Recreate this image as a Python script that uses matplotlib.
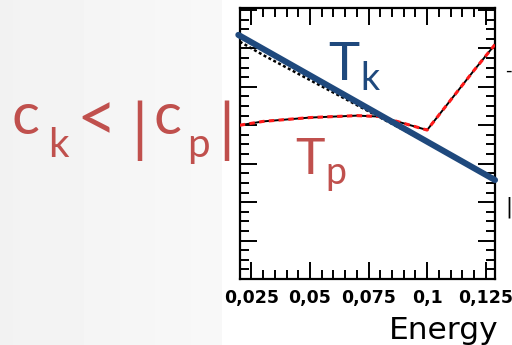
import numpy as np
import matplotlib
matplotlib.use('Agg')
import matplotlib.pyplot as plt
from matplotlib.ticker import MultipleLocator, FixedLocator, FixedFormatter

# energy grid and the two curves (arbitrary units)
energy = [0.02, 0.03, 0.04, 0.05, 0.06, 0.07, 0.08, 0.09, 0.10, 0.11, 0.12, 0.13]
t_kin = [24.7, 23.3, 22.0, 20.7, 19.4, 18.1, 16.8, 15.5, 14.2, 12.9, 11.6, 10.4]
t_pot = [16.0, 16.4, 16.6, 16.8, 16.9, 17.0, 16.9, 16.2, 15.5, 18.6, 21.7, 24.7]
# straight guide line (blue) end points
fit_x = [0.0194, 0.1290]
fit_y = [25.4, 10.3]

xtick_vals = [0.025, 0.05, 0.075, 0.1, 0.125]
xtick_labels = ['0,025', '0,05', '0,075', '0,1', '0,125']

red = '#c0504d'
blue = '#1f497d'

fig = plt.figure(figsize=(5.12, 3.45), dpi=100)
W, H = 512.0, 345.0

# light grey slide background on the left
bg = fig.add_axes([0, 0, 222 / W, 1], zorder=-10)
grad = np.linspace(0.948, 0.972, 50).reshape(1, -1)
bg.imshow(grad, cmap='gray', vmin=0, vmax=1, aspect='auto', extent=[0, 1, 0, 1])
bg.set_axis_off()

ax = fig.add_axes([240 / W, 1 - 279 / H, 255 / W, 271 / H])
ax.plot(energy, t_pot, color='black', lw=1.4, zorder=2)
ax.plot(energy, t_pot, color='#ff1a1a', lw=2.2, ls=(0, (1.8, 1.4)), zorder=3)
ax.plot(energy, t_kin, color='black', lw=1.8, ls=(0, (1.2, 1.0)), zorder=2)
ax.plot(fit_x, fit_y, color=blue, lw=4.4, solid_capstyle='round', zorder=4, clip_on=False)

ax.set_xlim(0.0201, 0.1290)
ax.set_ylim(0, 28.2)
ax.xaxis.set_major_locator(FixedLocator(xtick_vals))
ax.xaxis.set_major_formatter(FixedFormatter(xtick_labels))
ax.xaxis.set_minor_locator(MultipleLocator(0.005))
ax.yaxis.set_major_locator(MultipleLocator(4))
ax.yaxis.set_minor_locator(MultipleLocator(1))
ax.tick_params(which='both', direction='in', top=True, right=True, width=1.4, colors='black')
ax.tick_params(which='major', length=12)
ax.tick_params(which='minor', length=6.5)
ax.tick_params(axis='y', which='both', labelleft=False)
ax.tick_params(axis='x', which='major', pad=7, labelsize=12.5)
for lab in ax.get_xticklabels():
    lab.set_fontweight('bold')
for sp in ax.spines.values():
    sp.set_linewidth(1.6)

fig.text(498 / W, 1 - 316 / H, 'Energy', ha='right', va='top', fontsize=22.5, family='DejaVu Sans')

# labels on the slide
fam = ['Lato', 'DejaVu Sans']
def px(x, y):
    return x / W, 1 - y / H

fig.text(*px(328, 80), 'T', color=blue, fontsize=38, family=fam, va='baseline')
fig.text(*px(360, 90), 'k', color=blue, fontsize=27, family=fam, va='baseline')
fig.text(*px(295, 174), 'T', color=red, fontsize=36, family=fam, va='baseline')
fig.text(*px(325, 184), 'p', color=red, fontsize=27, family=fam, va='baseline')

fig.text(*px(12, 134), 'c', color=red, fontsize=42, family=fam, va='baseline')
fig.text(*px(48, 157), 'k', color=red, fontsize=29, family=fam, va='baseline')
fig.text(*px(76, 141), '<', color=red, fontsize=50, family=fam, va='baseline')
fig.text(*px(131, 150), '|', color=red, fontsize=46, family=fam, va='baseline')
fig.text(*px(153, 134), 'c', color=red, fontsize=42, family=fam, va='baseline')
fig.text(*px(187, 157), 'p', color=red, fontsize=29, family=fam, va='baseline')
fig.text(*px(218, 150), '|', color=red, fontsize=46, family=fam, va='baseline')

# cut-off text at the right border
fig.text(*px(505, 76), '-', color='black', fontsize=13, family='DejaVu Sans', va='baseline')
fig.text(*px(505, 213), '|', color='black', fontsize=15, family='DejaVu Sans', va='baseline')

fig.savefig('out.png', dpi=100)
